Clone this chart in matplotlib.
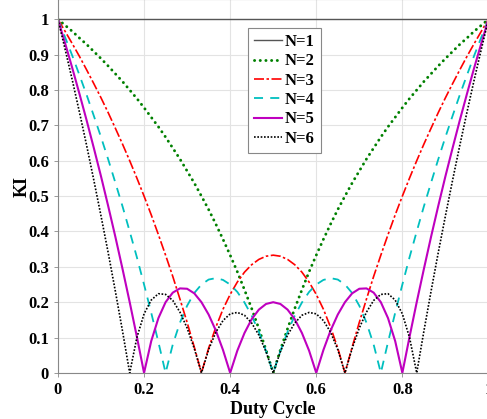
import numpy as np
import matplotlib
matplotlib.use("Agg")
import matplotlib.pyplot as plt

# Duty cycle grid: 0 .. 1 in steps of 1/60
duty = [i / 60 for i in range(61)]

# Ripple cancellation factor KI, first half (D = 0 .. 0.5); curves are symmetric about D = 0.5
ki_n1_half = [1.0] * 31
ki_n2_half = [1.0, 0.983, 0.966, 0.947, 0.929, 0.909, 0.889, 0.868, 0.846, 0.824,
              0.8, 0.776, 0.75, 0.723, 0.696, 0.667, 0.636, 0.605, 0.571, 0.537,
              0.5, 0.462, 0.421, 0.378, 0.333, 0.286, 0.235, 0.182, 0.125, 0.065, 0.0]
ki_n3_half = [1.0, 0.966, 0.931, 0.895, 0.857, 0.818, 0.778, 0.736, 0.692, 0.647,
              0.6, 0.551, 0.5, 0.447, 0.391, 0.333, 0.273, 0.209, 0.143, 0.073,
              0.0, 0.070, 0.129, 0.180, 0.222, 0.257, 0.285, 0.306, 0.321, 0.330, 0.333]
ki_n4_half = [1.0, 0.949, 0.897, 0.842, 0.786, 0.727, 0.667, 0.604, 0.538, 0.471,
              0.4, 0.327, 0.25, 0.170, 0.087, 0.0, 0.080, 0.142, 0.190, 0.226,
              0.25, 0.264, 0.268, 0.263, 0.25, 0.229, 0.199, 0.162, 0.116, 0.062, 0.0]
ki_n5_half = [1.0, 0.932, 0.862, 0.789, 0.714, 0.636, 0.556, 0.472, 0.385, 0.294,
              0.2, 0.102, 0.0, 0.090, 0.155, 0.2, 0.227, 0.239, 0.238, 0.225,
              0.2, 0.165, 0.120, 0.065, 0.0, 0.063, 0.113, 0.152, 0.179, 0.195, 0.2]
ki_n6_half = [1.0, 0.915, 0.828, 0.737, 0.643, 0.545, 0.444, 0.340, 0.231, 0.118,
              0.0, 0.100, 0.167, 0.206, 0.224, 0.222, 0.205, 0.172, 0.127, 0.069,
              0.0, 0.066, 0.115, 0.148, 0.167, 0.171, 0.163, 0.141, 0.107, 0.060, 0.0]

labels = ["N=1", "N=2", "N=3", "N=4", "N=5", "N=6"]
halves = [ki_n1_half, ki_n2_half, ki_n3_half, ki_n4_half, ki_n5_half, ki_n6_half]

styles = [
    dict(color="#555555", linestyle="-", linewidth=1.0),
    dict(color="#008000", linestyle=(0, (0.05, 1.9)), linewidth=2.1, dash_capstyle="round"),
    dict(color="#ff0000", linestyle=(0, (6, 1.5, 1.5, 1.5)), linewidth=1.2),
    dict(color="#00bfbf", linestyle=(0, (5, 4)), linewidth=1.3),
    dict(color="#bf00bf", linestyle="-", linewidth=1.5),
    dict(color="#000000", linestyle=(0, (1, 1)), linewidth=1.2),
]

plt.rcParams["font.family"] = ["Liberation Serif", "DejaVu Serif"]
plt.rcParams["font.weight"] = "bold"

fig = plt.figure(figsize=(4.87, 4.19), dpi=100)
ax = fig.add_axes([0.119, 0.110, 0.884, 0.892])

for lab, half, st in zip(labels, halves, styles):
    ki = half + half[-2::-1]
    ax.plot(duty, ki, label=lab, **st)

ax.set_xlim(0, 1)
ax.set_ylim(0, 1.057)
ax.set_xticks(np.arange(0, 1.01, 0.2))
ax.set_xticklabels(["0", "0.2", "0.4", "0.6", "0.8", "1"])
ax.set_yticks(np.arange(0, 1.01, 0.1))
ax.set_yticklabels(["0", "0.1", "0.2", "0.3", "0.4", "0.5", "0.6", "0.7", "0.8", "0.9", "1"])
ax.tick_params(labelsize=12, length=3, color="#888888", width=0.6)
for lbl in ax.get_xticklabels() + ax.get_yticklabels():
    lbl.set_fontweight("bold")
ax.grid(True, color="#e3e3e3", linewidth=0.8)
ax.set_axisbelow(True)
for sp in ax.spines.values():
    sp.set_color("#888888")
    sp.set_linewidth(0.8)

ax.set_xlabel("Duty Cycle", fontsize=13, fontweight="bold", labelpad=2)
ax.set_ylabel("KI", fontsize=13, fontweight="bold", labelpad=-2)

leg = ax.legend(loc="upper center", bbox_to_anchor=(0.526, 0.922),
                prop=dict(weight="bold", size=12), fancybox=False, framealpha=1,
                edgecolor="#888888", handlelength=1.7, handletextpad=0.15,
                labelspacing=0.2, borderpad=0.35, borderaxespad=0)
leg.get_frame().set_linewidth(0.8)

fig.savefig("out.png", dpi=100)
